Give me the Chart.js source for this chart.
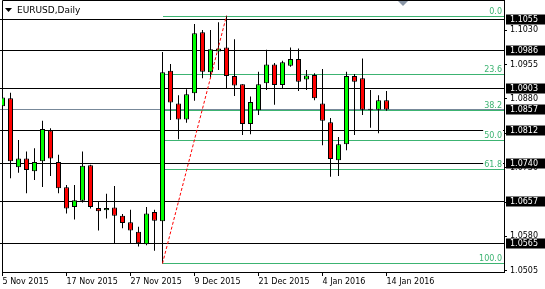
<!DOCTYPE html>
<html>
<head>
<meta charset="utf-8">
<script src="https://cdn.jsdelivr.net/npm/chart.js@4.4.1/dist/chart.umd.min.js"></script>
<style>
    html, body { margin: 0; padding: 0; background: #fff; }
    #wrap { width: 545px; height: 289px; }
</style>
</head>
<body>
<div id="wrap"><canvas id="chart" width="545" height="289"></canvas></div>
<script>
// Daily bars (trading days)
const dates = [
    '5 Nov 2015', '6 Nov 2015', '9 Nov 2015', '10 Nov 2015', '11 Nov 2015', '12 Nov 2015', '13 Nov 2015',
    '16 Nov 2015', '17 Nov 2015', '18 Nov 2015', '19 Nov 2015', '20 Nov 2015', '23 Nov 2015', '24 Nov 2015',
    '25 Nov 2015', '26 Nov 2015', '27 Nov 2015', '30 Nov 2015', '1 Dec 2015', '2 Dec 2015', '3 Dec 2015',
    '4 Dec 2015', '7 Dec 2015', '8 Dec 2015', '9 Dec 2015', '10 Dec 2015', '11 Dec 2015', '14 Dec 2015',
    '15 Dec 2015', '16 Dec 2015', '17 Dec 2015', '18 Dec 2015', '21 Dec 2015', '22 Dec 2015', '23 Dec 2015',
    '24 Dec 2015', '28 Dec 2015', '29 Dec 2015', '30 Dec 2015', '31 Dec 2015', '4 Jan 2016', '5 Jan 2016',
    '6 Jan 2016', '7 Jan 2016', '8 Jan 2016', '11 Jan 2016', '12 Jan 2016', '13 Jan 2016', '14 Jan 2016'
];
const opens = [
    1.0864, 1.0881, 1.0731, 1.0750, 1.0722, 1.0744, 1.0811, 1.0742, 1.0687, 1.0644,
    1.0658, 1.0735, 1.0642, 1.0637, 1.0643, 1.0625, 1.0611, 1.0590, 1.0563, 1.0633,
    1.0613, 1.0941, 1.0870, 1.0835, 1.0892, 1.1025, 1.0938, 1.0983, 1.0992, 1.0930,
    1.0912, 1.0825, 1.0855, 1.0914, 1.0955, 1.0910, 1.0952, 1.0967, 1.0922, 1.0932,
    1.0870, 1.0829, 1.0746, 1.0781, 1.0930, 1.0925, 1.0856, 1.0856, 1.0877
];
const highs = [
    1.0896, 1.0893, 1.0790, 1.0765, 1.0772, 1.0832, 1.0816, 1.0758, 1.0692, 1.0692,
    1.0765, 1.0736, 1.0655, 1.0673, 1.0690, 1.0629, 1.0638, 1.0601, 1.0644, 1.0638,
    1.0982, 1.0956, 1.0888, 1.0901, 1.1043, 1.1030, 1.1030, 1.1047, 1.1061, 1.1010,
    1.0912, 1.0885, 1.0939, 1.0987, 1.0958, 1.0963, 1.0992, 1.0990, 1.0943, 1.0936,
    1.0945, 1.0838, 1.0797, 1.0939, 1.0934, 1.0968, 1.0899, 1.0888, 1.0897
];
const lows = [
    1.0830, 1.0707, 1.0719, 1.0674, 1.0703, 1.0688, 1.0712, 1.0674, 1.0630, 1.0617,
    1.0654, 1.0641, 1.0593, 1.0619, 1.0565, 1.0598, 1.0565, 1.0558, 1.0561, 1.0549,
    1.0521, 1.0834, 1.0792, 1.0828, 1.0876, 1.0925, 1.0925, 1.0943, 1.0903, 1.0886,
    1.0801, 1.0803, 1.0845, 1.0899, 1.0867, 1.0903, 1.0950, 1.0897, 1.0899, 1.0877,
    1.0779, 1.0710, 1.0712, 1.0768, 1.0801, 1.0845, 1.0817, 1.0805, 1.0854
];
const closes = [
    1.0883, 1.0744, 1.0750, 1.0725, 1.0742, 1.0814, 1.0750, 1.0685, 1.0641, 1.0659,
    1.0734, 1.0644, 1.0635, 1.0642, 1.0625, 1.0609, 1.0593, 1.0565, 1.0630, 1.0614,
    1.0938, 1.0872, 1.0835, 1.0890, 1.1023, 1.0939, 1.0988, 1.0990, 1.0930, 1.0909,
    1.0825, 1.0873, 1.0912, 1.0955, 1.0910, 1.0960, 1.0967, 1.0917, 1.0931, 1.0881,
    1.0832, 1.0749, 1.0781, 1.0930, 1.0917, 1.0856, 1.0856, 1.0877, 1.0857
];

// price axis ticks and drawn levels
const yTicks = [1.0505, 1.0580, 1.0655, 1.0730, 1.0805, 1.0880, 1.0955, 1.1030];
const levelPrices = [1.1055, 1.0986, 1.0903, 1.0812, 1.0740, 1.0657, 1.0565];
const bidPrice = 1.0857;
const fibRatios = [0, 23.6, 38.2, 50.0, 61.8, 100.0];
const fibLowIndex = 20;
const fibHighIndex = 28;
const dateStep = 8;

const FONT = 'DejaVu Sans';
Chart.defaults.font.family = FONT;

function bodyColor(i) {
    if (closes[i] > opens[i]) return '#00ff00';
    if (closes[i] < opens[i]) return '#ff0000';
    return '#000000';
}

// Levels, fibo, labels, title
const overlay = {
    id: 'overlay',
    beforeDatasetsDraw(chart) {
        const c = chart.ctx;
        const a = chart.chartArea;
        const xs = chart.scales.x;
        const ys = chart.scales.y;
        c.save();
        c.lineWidth = 1;

        // horizontal support / resistance lines
        c.strokeStyle = '#000000';
        levelPrices.forEach(p => {
            const y = Math.round(ys.getPixelForValue(p)) + 0.5;
            c.beginPath();
            c.moveTo(0, y);
            c.lineTo(a.right, y);
            c.stroke();
        });

        // bid line
        c.strokeStyle = '#778899';
        const by = Math.round(ys.getPixelForValue(bidPrice)) + 0.5;
        c.beginPath();
        c.moveTo(0, by);
        c.lineTo(a.right, by);
        c.stroke();

        // fibonacci levels
        const fHigh = highs[fibHighIndex];
        const fLow = lows[fibLowIndex];
        const fx = Math.round(xs.getPixelForValue(fibLowIndex));
        c.font = '8px "' + FONT + '"';
        c.textAlign = 'right';
        c.textBaseline = 'alphabetic';
        fibRatios.forEach(r => {
            const price = fHigh - (fHigh - fLow) * r / 100;
            const y = Math.round(ys.getPixelForValue(price)) + 0.5;
            c.strokeStyle = '#3cb371';
            c.beginPath();
            c.moveTo(fx, y);
            c.lineTo(a.right, y);
            c.stroke();
            const txt = r.toFixed(1);
            const w = c.measureText(txt).width;
            c.fillStyle = '#ffffff';
            c.fillRect(a.right - 2 - w - 1, y - 10.5, w + 2, 8);
            c.fillStyle = '#3cb371';
            c.fillText(txt, a.right - 2, y - 2.5);
        });

        // frame
        c.strokeStyle = '#000000';
        c.beginPath();
        c.moveTo(a.left + 0.5, a.bottom);
        c.lineTo(a.left + 0.5, 0.5);
        c.lineTo(a.right, 0.5);
        c.stroke();
        c.restore();
    },
    afterDraw(chart) {
        const c = chart.ctx;
        const a = chart.chartArea;
        const ys = chart.scales.y;
        c.save();

        // price boxes on the axis
        c.font = '8px "' + FONT + '"';
        c.textAlign = 'left';
        c.textBaseline = 'middle';
        levelPrices.concat([bidPrice]).forEach(p => {
            const y = Math.round(ys.getPixelForValue(p));
            c.fillStyle = '#000000';
            c.fillRect(a.right + 2, y - 4.5, 545 - a.right - 2, 10);
            c.fillStyle = '#ffffff';
            c.fillText(p.toFixed(4), a.right + 6, y + 0.5);
        });

        // shift marker
        c.fillStyle = '#8a96a6';
        c.beginPath();
        c.moveTo(398, 1);
        c.lineTo(408, 1);
        c.lineTo(403, 6);
        c.closePath();
        c.fill();

        // title
        c.fillStyle = '#000000';
        c.beginPath();
        c.moveTo(5, 8);
        c.lineTo(12, 8);
        c.lineTo(8.5, 12);
        c.closePath();
        c.fill();
        c.font = '9px "' + FONT + '"';
        c.textBaseline = 'alphabetic';
        c.fillText('EURUSD,Daily', 17, 13);
        c.restore();
    }
};

const ctx = document.getElementById('chart').getContext('2d');
new Chart(ctx, {
    type: 'bar',
    data: {
        datasets: [
            {
                type: 'line',
                data: [
                    { x: fibLowIndex, y: lows[fibLowIndex] },
                    { x: fibHighIndex, y: highs[fibHighIndex] }
                ],
                borderColor: '#ff0000',
                borderWidth: 1,
                borderDash: [3, 2],
                pointRadius: 0,
                order: 0
            },
            {
                data: dates.map((d, i) => ({ x: i, y: [opens[i], closes[i]] })),
                backgroundColor: dates.map((d, i) => bodyColor(i)),
                borderColor: '#000000',
                borderWidth: 1,
                borderSkipped: false,
                barThickness: 5,
                minBarLength: 1,
                inflateAmount: 0,
                grouped: false,
                order: 1
            },
            {
                data: dates.map((d, i) => ({ x: i, y: [lows[i], highs[i]] })),
                backgroundColor: '#000000',
                borderWidth: 0,
                barThickness: 1,
                inflateAmount: 0,
                grouped: false,
                order: 2
            }
        ]
    },
    options: {
        responsive: false,
        animation: false,
        layout: { padding: { left: 2, top: 0, right: 0, bottom: 0 } },
        plugins: {
            legend: { display: false },
            tooltip: { enabled: false }
        },
        scales: {
            x: {
                type: 'linear',
                offset: false,
                min: -0.0625,
                max: 62.6875,
                afterBuildTicks: scale => {
                    scale.ticks = dates.map((d, i) => i).filter(i => i % dateStep === 0).map(i => ({ value: i }));
                },
                afterFit: scale => {
                    scale.height = 17;
                    scale.paddingLeft = 0;
                    scale.paddingRight = 0;
                },
                ticks: {
                    autoSkip: false,
                    maxRotation: 0,
                    align: 'start',
                    padding: 1,
                    color: '#000000',
                    font: { family: FONT, size: 8 },
                    callback: value => dates[value]
                },
                grid: { offset: false, drawOnChartArea: false, tickLength: 4, color: '#000000' },
                border: { display: true, color: '#000000' }
            },
            y: {
                type: 'linear',
                position: 'right',
                min: 1.05024,
                max: 1.10955,
                afterBuildTicks: scale => {
                    scale.ticks = yTicks.map(v => ({ value: v }));
                },
                afterFit: scale => {
                    scale.width = 41;
                    scale.paddingTop = 0;
                    scale.paddingBottom = 0;
                },
                ticks: {
                    padding: 3,
                    color: '#000000',
                    font: { family: FONT, size: 8 },
                    callback: value => Number(value).toFixed(4)
                },
                grid: { drawOnChartArea: false, tickLength: 3, color: '#000000' },
                border: { display: true, color: '#000000' }
            }
        }
    },
    plugins: [overlay]
});
</script>
</body>
</html>
